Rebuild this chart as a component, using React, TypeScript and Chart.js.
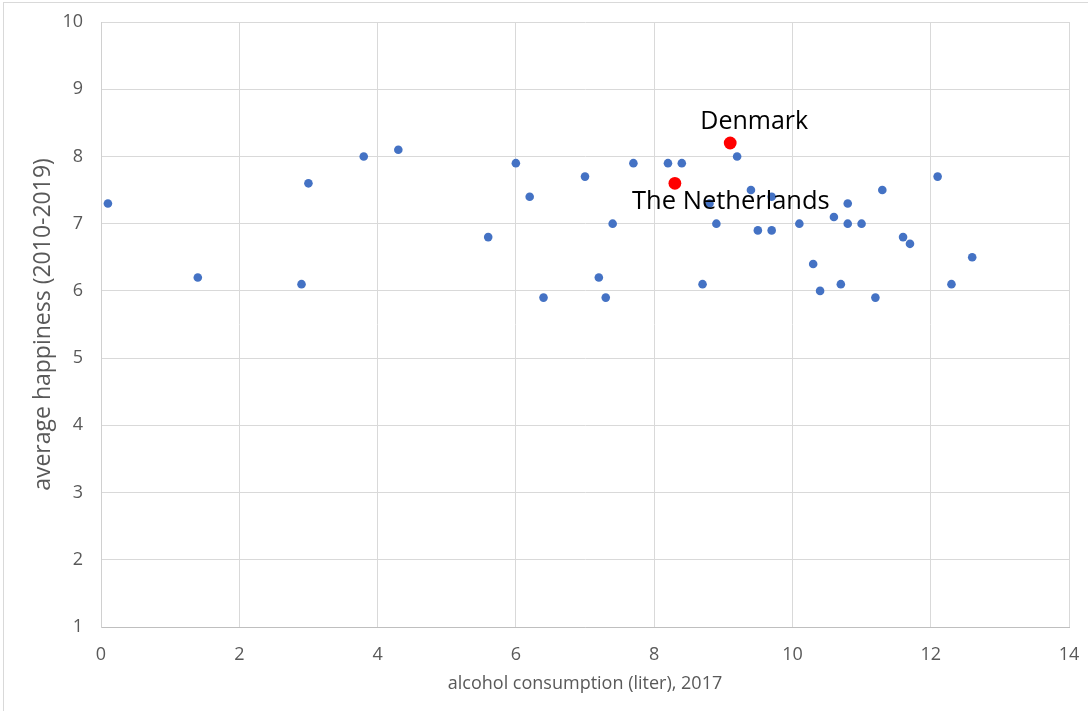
import React, { useEffect, useRef } from "react";
import { Chart, registerables } from "chart.js";

Chart.register(...registerables);

// Countries: alcohol consumption (liter, 2017) vs average happiness (2010-2019)
const alcohol = [
  0.1, 1.4, 2.9, 3.0, 3.8, 4.3, 5.6, 6.0, 6.2, 6.4,
  7.0, 7.2, 7.3, 7.4, 7.7, 8.2, 8.4, 8.7, 8.8, 8.9,
  9.2, 9.4, 9.5, 9.7, 9.7, 10.1, 10.3, 10.4, 10.6, 10.7,
  10.8, 10.8, 11.0, 11.2, 11.3, 11.6, 11.7, 12.1, 12.3, 12.6,
];
const happiness = [
  7.3, 6.2, 6.1, 7.6, 8.0, 8.1, 6.8, 7.9, 7.4, 5.9,
  7.7, 6.2, 5.9, 7.0, 7.9, 7.9, 7.9, 6.1, 7.3, 7.0,
  8.0, 7.5, 6.9, 7.4, 6.9, 7.0, 6.4, 6.0, 7.1, 6.1,
  7.3, 7.0, 7.0, 5.9, 7.5, 6.8, 6.7, 7.7, 6.1, 6.5,
];

const highlightNames = ["Denmark", "The Netherlands"];
const highlightAlcohol = [9.1, 8.3];
const highlightHappiness = [8.2, 7.6];

const xTitle = "alcohol consumption (liter), 2017";
const yTitle = "average happiness (2010-2019)";
const xMin = 0;
const xMax = 14;
const xStep = 2;
const yMin = 1;
const yMax = 10;
const yStep = 1;

// label offsets (pixels from point) - styling only
const labelOffsets = [
  { dx: 24, dy: -14 },
  { dx: 56, dy: 26 },
];

const labelPlugin = {
  id: "highlightLabels",
  afterDatasetsDraw(chart: any) {
    const meta = chart.getDatasetMeta(1);
    const ctx = chart.ctx;
    ctx.save();
    ctx.fillStyle = "#000000";
    ctx.textAlign = "center";
    ctx.textBaseline = "alphabetic";
    meta.data.forEach((pt: any, i: number) => {
      const off = labelOffsets[i];
      ctx.font = i === 0 ? "25px 'Open Sans'" : "25.5px 'Open Sans'";
      ctx.fillText(highlightNames[i], pt.x + off.dx, pt.y + off.dy);
    });
    ctx.restore();
  },
};

const zeroPad = (s: any) => {
  s.paddingTop = 0;
  s.paddingBottom = 0;
  s.paddingLeft = 0;
  s.paddingRight = 0;
};

export default function App() {
  const ref = useRef<HTMLCanvasElement | null>(null);

  useEffect(() => {
    if (!ref.current) return;
    const chart = new Chart(ref.current, {
      type: "scatter",
      data: {
        datasets: [
          {
            label: "countries",
            data: alcohol.map((x, i) => ({ x, y: happiness[i] })),
            backgroundColor: "#4472C4",
            borderWidth: 0,
            pointRadius: 4.3,
            pointHoverRadius: 4.3,
          },
          {
            label: "highlight",
            data: highlightAlcohol.map((x, i) => ({ x, y: highlightHappiness[i] })),
            backgroundColor: "#FF0000",
            borderWidth: 0,
            pointRadius: 6.4,
            pointHoverRadius: 6.4,
          },
        ],
      },
      options: {
        responsive: false,
        animation: false,
        events: [],
        layout: { padding: { top: 22, right: 19, left: 0, bottom: 0 } },
        plugins: {
          legend: { display: false },
          tooltip: { enabled: false },
        },
        scales: {
          x: {
            type: "linear",
            min: xMin,
            max: xMax,
            afterFit: (s: any) => {
              s.height = 86;
              zeroPad(s);
            },
            ticks: {
              stepSize: xStep,
              padding: 17,
              color: "#595959",
              font: { family: "'Open Sans'", size: 18 },
            },
            grid: { color: "#d9d9d9", drawTicks: false, lineWidth: 1 },
            border: { color: "#bfbfbf", width: 1 },
            title: {
              display: true,
              text: xTitle,
              color: "#595959",
              font: { family: "'Open Sans'", size: 18 },
              padding: { top: 0, bottom: 18 },
            },
          },
          y: {
            type: "linear",
            min: yMin,
            max: yMax,
            afterFit: (s: any) => {
              s.width = 101;
              zeroPad(s);
            },
            ticks: {
              stepSize: yStep,
              padding: 18,
              color: "#595959",
              font: { family: "'Open Sans'", size: 18 },
            },
            grid: { color: "#d9d9d9", drawTicks: false, lineWidth: 1 },
            border: { color: "#d0d0d0", width: 1 },
            title: {
              display: true,
              text: yTitle,
              color: "#595959",
              font: { family: "'Open Sans'", size: 23 },
              padding: { top: 30, bottom: 0 },
            },
          },
        },
      },
      plugins: [labelPlugin],
    });
    return () => chart.destroy();
  }, []);

  return (
    <div
      style={{
        position: "absolute",
        left: 0,
        top: 0,
        width: 1088,
        height: 713,
        background: "#ffffff",
        overflow: "hidden",
      }}
    >
      <div
        style={{
          position: "absolute",
          left: 3,
          top: 2,
          width: 1100,
          height: 708,
          borderLeft: "1px solid #d9d9d9",
          borderTop: "1px solid #d9d9d9",
          pointerEvents: "none",
        }}
      />
      <canvas ref={ref} width={1088} height={713} style={{ position: "absolute", left: 0, top: 0 }} />
    </div>
  );
}
